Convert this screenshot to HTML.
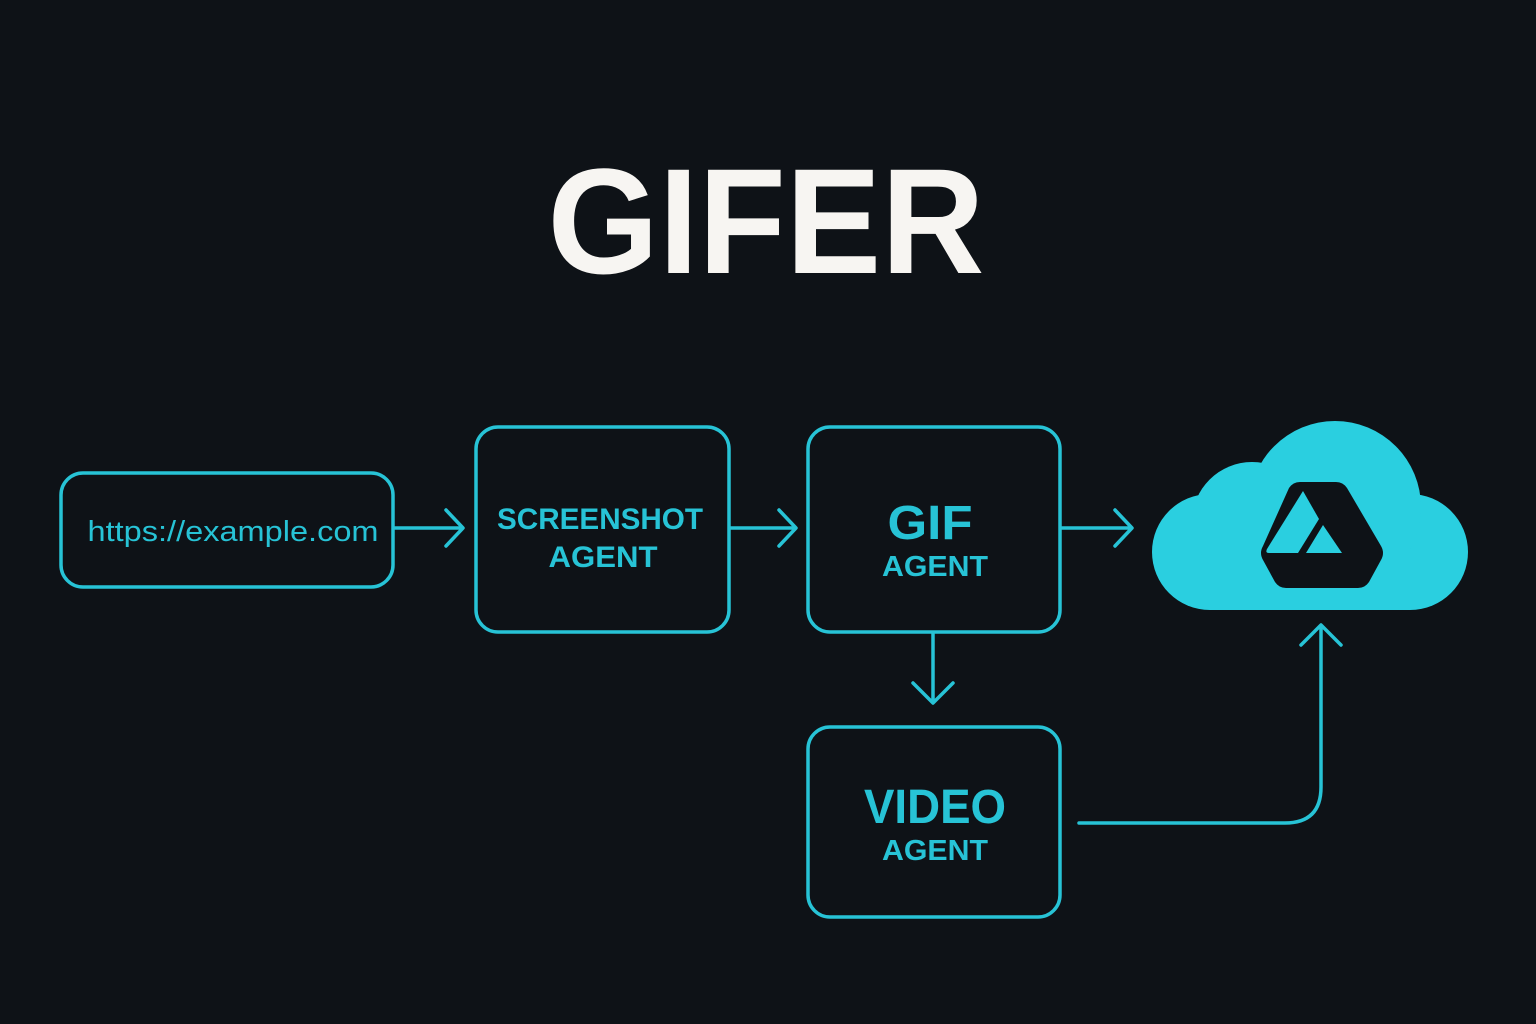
<!DOCTYPE html>
<html><head><meta charset="utf-8"><style>html,body{margin:0;padding:0;background:#0e1217;}svg{display:block}</style></head>
<body>
<svg width="1536" height="1024" viewBox="0 0 1536 1024" xmlns="http://www.w3.org/2000/svg">
<rect width="1536" height="1024" fill="#0e1217"/>
<text x="766" y="273" text-anchor="middle" font-family="Liberation Sans, sans-serif" font-weight="bold" font-size="150" fill="#f7f5f2" textLength="437" lengthAdjust="spacingAndGlyphs">GIFER</text>
<g fill="none" stroke="#27c3d6" stroke-width="3.5" stroke-linecap="round" stroke-linejoin="round">
<rect x="61" y="473" width="332" height="114" rx="22"/>
<rect x="476" y="427" width="253" height="205" rx="22"/>
<rect x="808" y="427" width="252" height="205" rx="22"/>
<rect x="808" y="727" width="252" height="190" rx="22"/>
<path d="M395 528 H462 M446 510 L463 528 L446 546"/>
<path d="M731 528 H795 M779 510 L796 528 L779 546"/>
<path d="M1062 528 H1131 M1115 510 L1132 528 L1115 546"/>
<path d="M933 634 V702 M913 683 L933 703 L953 683"/>
<path d="M1079 823 H1285 Q1321 823 1321 787 V626 M1301 645 L1321 625 L1341 645"/>
</g>
<g font-family="Liberation Sans, sans-serif" fill="#27c3d6" font-weight="bold" text-anchor="middle">
<text x="233" y="541" font-weight="normal" font-size="29" textLength="291" lengthAdjust="spacingAndGlyphs">https://example.com</text>
<text x="600" y="529" font-size="30" textLength="206" lengthAdjust="spacingAndGlyphs">SCREENSHOT</text>
<text x="603" y="567" font-size="30" textLength="109" lengthAdjust="spacingAndGlyphs">AGENT</text>
<text x="930" y="539" font-size="48" textLength="85" lengthAdjust="spacingAndGlyphs">GIF</text>
<text x="935" y="576" font-size="29" textLength="106" lengthAdjust="spacingAndGlyphs">AGENT</text>
<text x="935" y="823" font-size="48" textLength="142" lengthAdjust="spacingAndGlyphs">VIDEO</text>
<text x="935" y="860" font-size="29" textLength="106" lengthAdjust="spacingAndGlyphs">AGENT</text>
</g>
<g fill="#2acfe0">
<circle cx="1210" cy="552" r="58"/>
<circle cx="1410" cy="552" r="58"/>
<circle cx="1335" cy="507" r="86"/>
<circle cx="1252" cy="522" r="60"/>
<rect x="1210" y="520" width="200" height="90"/>
</g>
<path d="M1300 482 H1336 Q1343 482 1347 488 L1381 546 Q1385 553 1381 560 L1369 582 Q1365 588 1358 588 H1286 Q1279 588 1275 582 L1263 560 Q1259 553 1263 546 L1289 488 Q1293 482 1300 482 Z" fill="#0e1217"/>
<path d="M1303 491 L1319 519 L1298 553 H1269 Q1265 553 1267 549 Z" fill="#2acfe0"/>
<path d="M1323 525 L1342 553 H1306 Z" fill="#2acfe0"/>
</svg>
</body></html>
